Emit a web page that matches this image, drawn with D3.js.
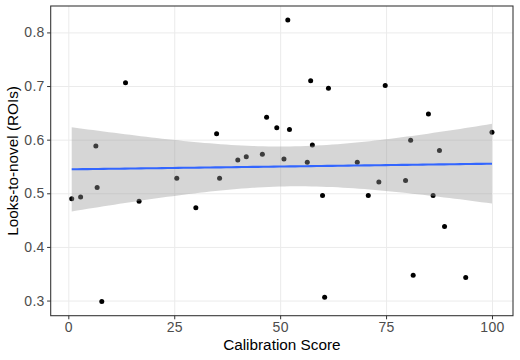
<!DOCTYPE html>
<html>
<head>
<meta charset="utf-8">
<script src="https://cdn.jsdelivr.net/npm/d3@7"></script>
<style>
  body { margin: 0; background: #fff; }
  svg { display: block; font-family: "Liberation Sans", Arial, sans-serif; }
  .grid line { stroke: #ebebeb; stroke-width: 1; }
  .grid path { display: none; }
  .axis path { display: none; }
  .axis line { stroke: #333; }
  .axis text { fill: #4d4d4d; font-size: 14px; letter-spacing: 0.3px; }
</style>
</head>
<body>
<svg width="520" height="360"></svg>
<script>
// Data
const calibration = [0.8, 2.9, 6.5, 6.8, 7.9, 13.5, 16.7, 25.6, 30.1, 35.0,
  35.7, 40.0, 42.0, 45.8, 46.8, 49.2, 50.9, 51.8, 52.2, 56.4,
  57.2, 57.6, 60.0, 60.5, 61.4, 68.2, 70.8, 73.3, 74.8, 79.6,
  80.8, 81.4, 85.0, 86.1, 87.6, 88.8, 93.8, 100];
const looks = [0.490, 0.493, 0.588, 0.511, 0.298, 0.706, 0.485, 0.528, 0.473, 0.611,
  0.528, 0.562, 0.568, 0.573, 0.642, 0.622, 0.564, 0.823, 0.619, 0.558,
  0.710, 0.590, 0.496, 0.306, 0.696, 0.558, 0.496, 0.521, 0.701, 0.524,
  0.599, 0.347, 0.648, 0.496, 0.580, 0.438, 0.343, 0.614];
const xTicks = [0, 25, 50, 75, 100];
const yTicks = [0.3, 0.4, 0.5, 0.6, 0.7, 0.8];

const points = calibration.map((x, i) => ({ x, y: looks[i] }));

// Sizes
const margin = { t: 6, b: 44.3, l: 50.7, r: 7 };
const width = 520 - margin.l - margin.r;
const height = 360 - margin.t - margin.b;

const svg = d3.select("svg")
  .append("g")
    .attr("transform", `translate(${margin.l}, ${margin.t})`);

// Scales (ggplot-style 5% expansion)
const xExt = d3.extent(calibration), yExt = d3.extent(looks);
const xPad = (xExt[1] - xExt[0]) * 0.05, yPad = (yExt[1] - yExt[0]) * 0.05;

const xScale = d3.scaleLinear()
  .domain([xExt[0] - xPad, xExt[1] + xPad])
  .range([0, width]);

const yScale = d3.scaleLinear()
  .domain([yExt[0] - yPad, yExt[1] + yPad])
  .range([height, 0]);

// Linear fit with 95% confidence band
const n = points.length;
const xMean = d3.mean(calibration), yMean = d3.mean(looks);
const sxx = d3.sum(calibration, x => (x - xMean) ** 2);
const sxy = d3.sum(points, d => (d.x - xMean) * (d.y - yMean));
const slope = sxy / sxx;
const intercept = yMean - slope * xMean;
const sse = d3.sum(points, d => (d.y - intercept - slope * d.x) ** 2);
const s = Math.sqrt(sse / (n - 2));
const tCrit = 2.028; // qt(0.975, 36)

const fit = d3.range(80).map(i => {
  const x = xExt[0] + (xExt[1] - xExt[0]) * i / 79;
  const y = intercept + slope * x;
  const se = s * Math.sqrt(1 / n + (x - xMean) ** 2 / sxx);
  return { x, y, lo: y - tCrit * se, hi: y + tCrit * se };
});

// Grids
svg.append("g")
  .attr("class", "grid")
  .attr("transform", `translate(0, ${height})`)
  .call(d3.axisBottom(xScale).tickValues(xTicks).tickSize(-height).tickFormat(""));

svg.append("g")
  .attr("class", "grid")
  .call(d3.axisLeft(yScale).tickValues(yTicks).tickSize(-width).tickFormat(""));

// Points
svg.append("g")
  .selectAll("circle")
  .data(points)
  .join("circle")
    .attr("cx", d => xScale(d.x))
    .attr("cy", d => yScale(d.y))
    .attr("r", 2.5)
    .attr("fill", "#000");

// Confidence band
svg.append("path")
  .datum(fit)
  .attr("fill", "#999999")
  .attr("fill-opacity", 0.4)
  .attr("d", d3.area()
    .x(d => xScale(d.x))
    .y0(d => yScale(d.lo))
    .y1(d => yScale(d.hi)));

// Fit line
svg.append("path")
  .datum(fit)
  .attr("fill", "none")
  .attr("stroke", "#3366FF")
  .attr("stroke-width", 2.1)
  .attr("d", d3.line()
    .x(d => xScale(d.x))
    .y(d => yScale(d.y)));

// Panel border
svg.append("rect")
  .attr("width", width)
  .attr("height", height)
  .attr("fill", "none")
  .attr("stroke", "#333")
  .attr("stroke-width", 1.07);

// Axes
svg.append("g")
  .attr("class", "axis")
  .attr("transform", `translate(0, ${height})`)
  .call(d3.axisBottom(xScale).tickValues(xTicks).tickSize(3.6).tickPadding(2.4));

svg.append("g")
  .attr("class", "axis")
  .call(d3.axisLeft(yScale).tickValues(yTicks).tickSize(3.6).tickPadding(2.4)
    .tickFormat(d3.format(".1f")));

// Axis titles
svg.append("text")
  .attr("x", width / 2)
  .attr("y", height + 34)
  .attr("text-anchor", "middle")
  .attr("font-size", 15.3)
  .attr("fill", "#000")
  .text("Calibration Score");

svg.append("text")
  .attr("transform", `translate(${-32.4}, ${height / 2}) rotate(-90)`)
  .attr("text-anchor", "middle")
  .attr("font-size", 15.3)
  .attr("fill", "#000")
  .text("Looks-to-novel (ROIs)");
</script>
</body>
</html>
